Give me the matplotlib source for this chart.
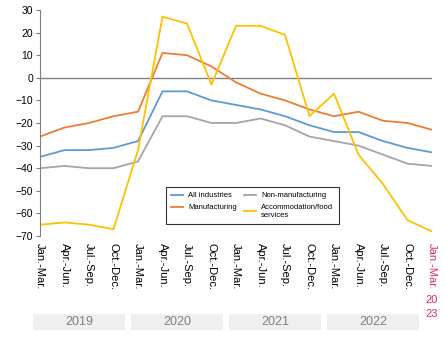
import numpy as np
import matplotlib.pyplot as plt
from matplotlib.patches import Rectangle
import matplotlib.transforms as mtransforms

plt.rcParams['font.family'] = ['Liberation Sans', 'DejaVu Sans']

quarters = ['Jan.-Mar.', 'Apr.-Jun.', 'Jul.-Sep.', 'Oct.-Dec.'] * 4 + ['Jan.-Mar.']
years = ['2019', '2020', '2021', '2022']
all_ind = [-35, -32, -32, -31, -28, -6, -6, -10, -12, -14, -17, -21, -24, -24, -28, -31, -33]
manuf = [-26, -22, -20, -17, -15, 11, 10, 5, -2, -7, -10, -14, -17, -15, -19, -20, -23]
non_manuf = [-40, -39, -40, -40, -37, -17, -17, -20, -20, -18, -21, -26, -28, -30, -34, -38, -39]
accom = [-65, -64, -65, -67, -32, 27, 24, -3, 23, 23, 19, -17, -7, -34, -47, -63, -68]

c_blue = '#5B9BD5'
c_orange = '#ED7D31'
c_gray = '#A5A5A5'
c_yellow = '#FFC000'
c_red = '#DC2E5A'

fig = plt.figure(figsize=(4.45, 3.39), dpi=100)
ax = fig.add_axes([40/445, 1-236/339, 392/445, 226/339])

x = np.arange(len(quarters))
l1, = ax.plot(x, all_ind, color=c_blue, lw=1.3, label='All industries')
l2, = ax.plot(x, manuf, color=c_orange, lw=1.3, label='Manufacturing')
l3, = ax.plot(x, non_manuf, color=c_gray, lw=1.3, label='Non-manufacturing')
l4, = ax.plot(x, accom, color=c_yellow, lw=1.3, label='Accommodation/food\nservices')
ax.axhline(0, color='#808080', lw=1, zorder=0)

ax.set_xlim(0, len(quarters) - 1)
ax.set_ylim(-70, 30)
ax.set_yticks(np.arange(-70, 31, 10))
for s in ['top', 'right', 'bottom']:
    ax.spines[s].set_visible(False)
ax.spines['left'].set_color('#808080')
ax.spines['left'].set_linewidth(0.8)
ax.tick_params(axis='y', labelsize=7.5, length=3, color='#808080', width=0.8, pad=2)
ax.tick_params(axis='x', length=0, labelsize=8, pad=5)
ax.set_xticks(x)
ax.set_xticklabels(quarters, rotation=270, va='top', ha='center')
ax.get_xticklabels()[-1].set_color(c_red)

trans = mtransforms.blended_transform_factory(ax.transData, ax.transAxes)
ax.text(x[-1], -0.285, '20', color=c_red, fontsize=8, ha='center', va='center', transform=trans)
ax.text(x[-1], -0.345, '23', color=c_red, fontsize=8, ha='center', va='center', transform=trans)

for i, yr in enumerate(years):
    start = i * 4
    ax.add_patch(Rectangle((start - 0.28, -0.418), 3.75, 0.075, transform=trans,
                           facecolor='#EFEFEF', edgecolor='none', clip_on=False))
    ax.text(start + 1.6, -0.38, yr, transform=trans, ha='center', va='center',
            fontsize=9, color='#7F7F7F')

leg = ax.legend([l1, l2, l3, l4], [l1.get_label(), l2.get_label(), l3.get_label(), l4.get_label()],
                ncol=2, loc='lower left', bbox_to_anchor=(0.311, 0.035), fontsize=5.5,
                frameon=True, fancybox=False, edgecolor='black', handlelength=1.6,
                handletextpad=0.6, columnspacing=1.0, borderpad=0.7, labelspacing=0.6)
leg.get_frame().set_linewidth(0.8)

fig.savefig('out.png', dpi=100)
